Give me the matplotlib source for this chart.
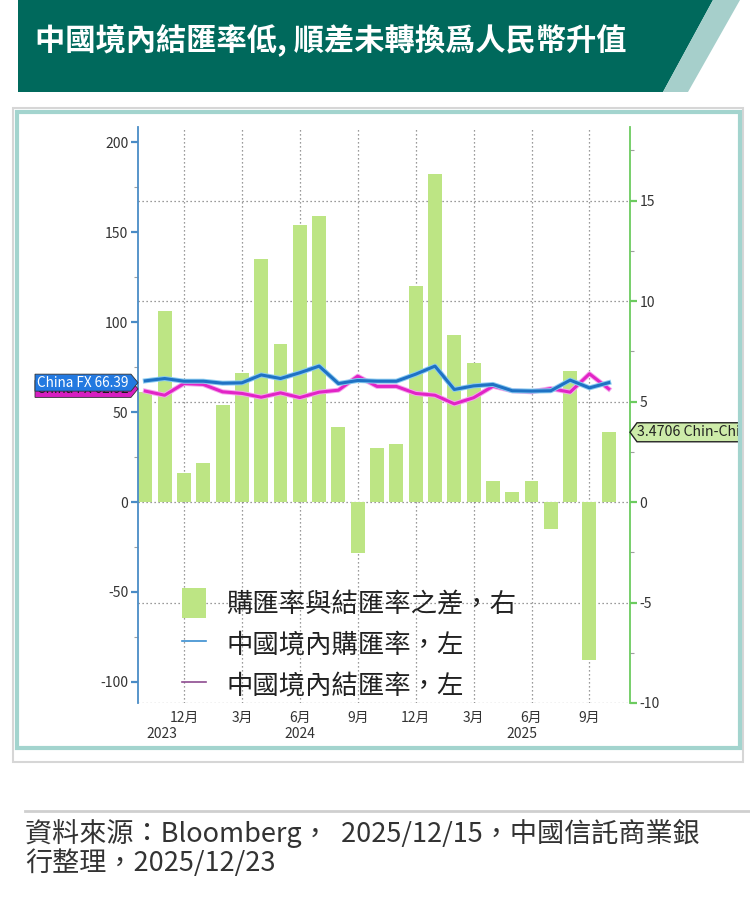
import matplotlib
matplotlib.use('Agg')
import matplotlib.pyplot as plt
import numpy as np
from matplotlib.patches import Polygon, Rectangle, Patch
from matplotlib.lines import Line2D
import matplotlib.patheffects as pe
import matplotlib.ticker as mticker

plt.rcParams['font.family'] = ['Noto Sans CJK TC', 'DejaVu Sans']
plt.rcParams['axes.unicode_minus'] = False

# ---------------- data ----------------
months = ['2023-10', '2023-11', '2023-12', '2024-01', '2024-02', '2024-03', '2024-04',
          '2024-05', '2024-06', '2024-07', '2024-08', '2024-09', '2024-10', '2024-11',
          '2024-12', '2025-01', '2025-02', '2025-03', '2025-04', '2025-05', '2025-06',
          '2025-07', '2025-08', '2025-09', '2025-10']
buy_rate = [67.4, 68.7, 67.2, 67.2, 66.1, 66.3, 70.7, 68.7, 71.9, 75.6, 65.9, 67.6, 67.2,
            67.2, 71.1, 75.6, 62.6, 64.6, 65.4, 61.9, 61.7, 61.9, 67.8, 63.5, 66.39]
sell_rate = [61.7, 59.4, 65.9, 65.4, 61.3, 60.4, 58.3, 60.7, 58.1, 61.1, 62.2, 70.0, 64.3,
             64.3, 60.4, 59.4, 54.6, 58.0, 64.4, 61.9, 61.3, 63.1, 61.1, 71.3, 62.92]
spread = [5.47, 9.5, 1.44, 1.94, 4.83, 6.4, 12.08, 7.85, 13.78, 14.23, 3.73, -2.54, 2.69,
          2.89, 10.75, 16.3, 8.3, 6.9, 1.05, 0.5, 1.05, -1.34, 6.52, -7.86, 3.4706]
left_ticks = [-100, -50, 0, 50, 100, 150, 200]
right_ticks = [-10, -5, 0, 5, 10, 15]
years = ['2023', '2024', '2025']
year_pos = [0.86, 8.0, 19.5]
legend_labels = ['購匯率與結匯率之差，右', '中國境內購匯率，左', '中國境內結匯率，左']
title = '中國境內結匯率低, 順差未轉換爲人民幣升值'
source_lines = ['資料來源：Bloomberg，  2025/12/15，中國信託商業銀', '行整理，2025/12/23']

# ---------------- figure ----------------
W, H = 750, 901
fig = plt.figure(figsize=(W / 100, H / 100), dpi=100)
fig.patch.set_facecolor('white')

def fx(x):
    return x / W

def fy(y):
    return 1 - y / H

def poly(pts, **kw):
    p = Polygon([(fx(a), fy(b)) for a, b in pts], closed=True, transform=fig.transFigure, **kw)
    fig.add_artist(p)
    return p

# header
poly([(18, 0), (713, 0), (663, 92), (18, 92)], facecolor='#00695C', edgecolor='none')
poly([(713, 0), (740, 0), (688, 92), (663, 92)], facecolor='#A6CFCB', edgecolor='none')
fig.text(fx(35), fy(40), title, color='white', fontsize=21.8, fontweight='bold',
         ha='left', va='center')

# panel borders
fig.add_artist(Rectangle((fx(13), fy(762)), fx(743) - fx(13), fy(108) - fy(762),
                         transform=fig.transFigure, facecolor='none', edgecolor='#D6D6D6', lw=1.5))
panel = Rectangle((fx(17), fy(748)), fx(740) - fx(17), fy(112) - fy(748),
                  transform=fig.transFigure, facecolor='none', edgecolor='#A3D4CE', lw=3, zorder=12)
fig.add_artist(panel)

# footer
fig.add_artist(Line2D([fx(25), fx(750)], [fy(811), fy(811)], transform=fig.transFigure,
                      color='#CFCFCF', lw=2))
fig.text(fx(25), fy(834), source_lines[0], fontsize=19.5, color='#333333', ha='left', va='center')
fig.text(fx(25), fy(863), source_lines[1], fontsize=19.5, color='#333333', ha='left', va='center')

# ---------------- axes ----------------
L, R, T, B = 138, 630, 127, 703
ax = fig.add_axes([fx(L), fy(B), fx(R) - fx(L), fy(T) - fy(B)])
ax2 = ax.twinx()

x = np.arange(len(months))
bar_color = '#BDE584'
ax.bar(x, spread, width=0.72, color=bar_color, zorder=2)
ax.set_ylim(-10, 18.66)
ax.set_xlim(-0.38, 25.1)
ax.set_axisbelow(True)

# x ticks at quarter months
tick_idx = [i for i, m in enumerate(months) if int(m[5:]) in (3, 6, 9, 12)]
tick_lab = [f'{int(months[i][5:])}月' for i in tick_idx]
ax.set_xticks(tick_idx)
ax.set_xticklabels(tick_lab, fontsize=10, color='#333333')
ax.tick_params(axis='x', length=0, pad=6)
for yr, xp in zip(years, year_pos):
    ax.annotate(yr, xy=(xp, 0), xycoords=('data', 'axes fraction'), xytext=(0, -24),
                textcoords='offset pixels', ha='center', va='top', fontsize=10, color='#333333')

grid_kw = dict(color='#7A7A7A', lw=0.9, ls=(0, (1, 2.2)))
ax.xaxis.grid(True, **grid_kw)
ax.yaxis.grid(True, **grid_kw)

# right axis (bars)
green = '#6CCB5F'
ax.yaxis.tick_right()
ax.set_yticks(right_ticks)
ax.yaxis.set_minor_locator(mticker.MultipleLocator(2.5))
ax.tick_params(axis='y', which='major', colors=green, labelcolor='#333333', labelsize=10,
               length=5, width=1.6, direction='out', pad=2)
ax.tick_params(axis='y', which='minor', colors='#A0A0A0', length=3, width=0.8)
for s in ['top', 'bottom', 'left']:
    ax.spines[s].set_visible(False)
ax.spines['right'].set_color(green)
ax.spines['right'].set_linewidth(1.3)

# left axis (lines)
blue = '#1F72C4'
magenta = '#E224C6'
ax2.plot(x, buy_rate, color=blue, lw=2.2, zorder=4, solid_joinstyle='round',
         path_effects=[pe.Stroke(linewidth=3.6, foreground='#8ACBF0'), pe.Normal()])
ax2.plot(x, sell_rate, color=magenta, lw=2.2, zorder=3, solid_joinstyle='round',
         path_effects=[pe.Stroke(linewidth=3.6, foreground='#F5A6EC'), pe.Normal()])
ax2.set_ylim(-111.8, 208.6)
ax2.yaxis.tick_left()
ax2.set_yticks(left_ticks)
ax2.yaxis.set_minor_locator(mticker.MultipleLocator(25))
lblue = '#4A8CC6'
ax2.tick_params(axis='y', which='major', colors=lblue, labelcolor='#333333', labelsize=10,
                length=5, width=1.6, direction='out', pad=2)
ax2.tick_params(axis='y', which='minor', colors='#A0A0A0', length=3, width=0.8)
for s in ['top', 'bottom', 'right']:
    ax2.spines[s].set_visible(False)
ax2.spines['left'].set_color(lblue)
ax2.spines['left'].set_linewidth(1.3)

# legend
handles = [Patch(facecolor=bar_color, edgecolor='none'),
           Line2D([], [], color='#3A8DD0', lw=1.2),
           Line2D([], [], color='#8E4C90', lw=1.2)]
leg = ax2.legend(handles, legend_labels, loc='upper left', bbox_to_anchor=(0.089, 0.199),
                 frameon=False, fontsize=19, handlelength=0.9, handleheight=1.35,
                 handletextpad=0.8, labelspacing=0.42, borderpad=0, borderaxespad=0)
for t in leg.get_texts():
    t.set_color('#222222')

# ---------------- value tags ----------------
def tag_left(ax_, yval, text, fc, tc, zp, zt):
    _, yd = ax_.transData.transform((0, yval))
    xd, _ = ax_.transAxes.transform((0, 0))
    ypx = H - yd
    tip = xd
    h = 17
    pts = [(tip, ypx), (tip - 7, ypx - h / 2), (35, ypx - h / 2), (35, ypx + h / 2), (tip - 7, ypx + h / 2)]
    poly(pts, facecolor=fc, edgecolor='#333333', lw=0.6, zorder=zp)
    fig.text(fx(37), fy(ypx), text, color=tc, fontsize=9.8, ha='left', va='center', zorder=zt)

tag_left(ax2, sell_rate[-1], f'China FX {sell_rate[-1]:.2f}', '#D61FC0', '#1A1A1A', 8, 9)
tag_left(ax2, buy_rate[-1], f'China FX {buy_rate[-1]:.2f}', '#2379E0', 'white', 10, 11)

_, yd = ax.transData.transform((0, spread[-1]))
xd, _ = ax.transAxes.transform((1, 0))
ypx = H - yd
h = 19
poly([(xd, ypx), (xd + 7, ypx - h / 2), (741, ypx - h / 2), (741, ypx + h / 2), (xd + 7, ypx + h / 2)],
     facecolor='#CDEBA9', edgecolor='#222222', lw=1, zorder=10)
txt = fig.text(fx(xd + 7), fy(ypx), f'{spread[-1]:.4f} Chin-Chin', color='#222222', fontsize=10.2,
               ha='left', va='center', zorder=11)
clip = Rectangle((fx(xd), fy(ypx + 12)), fx(739) - fx(xd), fy(ypx - 12) - fy(ypx + 12),
                 transform=fig.transFigure)
txt.set_clip_path(clip)

fig.savefig('out.png', dpi=100, facecolor='white')
